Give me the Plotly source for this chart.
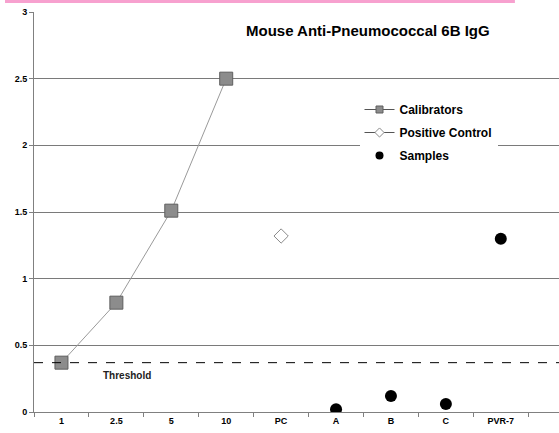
import plotly.graph_objects as go

categories = ["1", "2.5", "5", "10", "PC", "A", "B", "C", "PVR-7"]
calib_x = ["1", "2.5", "5", "10"]
calib_y = [0.37, 0.82, 1.51, 2.50]
pc_x = ["PC"]
pc_y = [1.32]
sample_x = ["A", "B", "C", "PVR-7"]
sample_y = [0.02, 0.12, 0.06, 1.30]
threshold = 0.37
y_ticks = [0, 0.5, 1, 1.5, 2, 2.5, 3]
y_ticklabels = ["0", "0.5", "1", "1.5", "2", "2.5", "3"]

FONT = "Liberation Sans, Arial, sans-serif"

fig = go.Figure()
fig.add_trace(go.Scatter(
    x=calib_x, y=calib_y, name="Calibrators", mode="lines+markers",
    line=dict(color="#9a9a9a", width=1), showlegend=False,
    marker=dict(symbol="square", size=13, color="#8c8c8c",
                line=dict(color="#5f5f5f", width=1)),
))
fig.add_trace(go.Scatter(
    x=pc_x, y=pc_y, name="Positive Control", mode="markers", showlegend=False,
    marker=dict(symbol="diamond", size=11, color="white",
                line=dict(color="#8a8a8a", width=1)),
))
fig.add_trace(go.Scatter(
    x=sample_x, y=sample_y, name="Samples", mode="markers", showlegend=False,
    marker=dict(symbol="circle", size=12, color="black"),
))
# legend proxies (small symbols as in the reference legend)
fig.add_trace(go.Scatter(
    x=[None], y=[None], name="Calibrators", mode="lines+markers", legendgroup="a",
    line=dict(color="#555555", width=1),
    marker=dict(symbol="square", size=7, color="#8c8c8c", line=dict(color="#5f5f5f", width=1)),
))
fig.add_trace(go.Scatter(
    x=[None], y=[None], name="Positive Control", mode="lines+markers", legendgroup="b",
    line=dict(color="#555555", width=1),
    marker=dict(symbol="diamond", size=7, color="white", line=dict(color="#8a8a8a", width=1)),
))
fig.add_trace(go.Scatter(
    x=[None], y=[None], name="Samples", mode="markers", legendgroup="c",
    marker=dict(symbol="circle", size=8, color="black"),
))

fig.add_shape(type="line", xref="paper", yref="y", x0=0, x1=1,
              y0=threshold, y1=threshold,
              line=dict(color="black", width=1, dash="dash"))
fig.add_annotation(x=1.2, y=threshold, xref="x", yref="y", text="<b>Threshold</b>",
                   showarrow=False, yshift=-13, font=dict(size=10, color="#222", family=FONT))
fig.add_annotation(x=0.636, y=0.955, xref="paper", yref="paper", xanchor="center",
                   yanchor="middle",
                   text="<b>Mouse Anti-Pneumococcal 6B IgG</b>", showarrow=False,
                   font=dict(size=15, color="black", family=FONT))
# pink band at top
fig.add_shape(type="rect", xref="paper", yref="paper", x0=-0.0552, x1=0.916,
              y0=1.0225, y1=1.031, fillcolor="#f7a1cf", line=dict(width=0), layer="above")

fig.update_layout(
    width=559, height=433,
    margin=dict(l=34, r=0, t=12, b=21, autoexpand=False),
    paper_bgcolor="white", plot_bgcolor="white",
    font=dict(family=FONT, size=9, color="black"),
    showlegend=True,
    legend=dict(x=0.62, y=0.7925, xanchor="left", yanchor="top",
                bgcolor="white", borderwidth=0, tracegroupgap=4, itemwidth=30,
                font=dict(size=12, family=FONT, color="black", weight="bold")),
    xaxis=dict(type="category", categoryorder="array", categoryarray=categories,
               range=[-0.5, 9.06], tickson="boundaries", ticks="outside",
               ticklen=4, tickcolor="#808080", showgrid=False, automargin=False,
               showline=True, linecolor="#808080", linewidth=1,
               tickfont=dict(size=9, family=FONT, weight="bold"), zeroline=False),
    yaxis=dict(range=[0, 3], tickvals=y_ticks, ticktext=y_ticklabels,
               ticks="outside", ticklen=4, tickcolor="#808080", automargin=False,
               showgrid=True, gridcolor="#7a7a7a", gridwidth=1,
               showline=True, linecolor="#808080", linewidth=1, zeroline=False,
               tickfont=dict(size=9, family=FONT, weight="bold")),
)

fig.write_html("out.html", config={"displayModeBar": False},
               post_script="document.body.style.margin='0';")
